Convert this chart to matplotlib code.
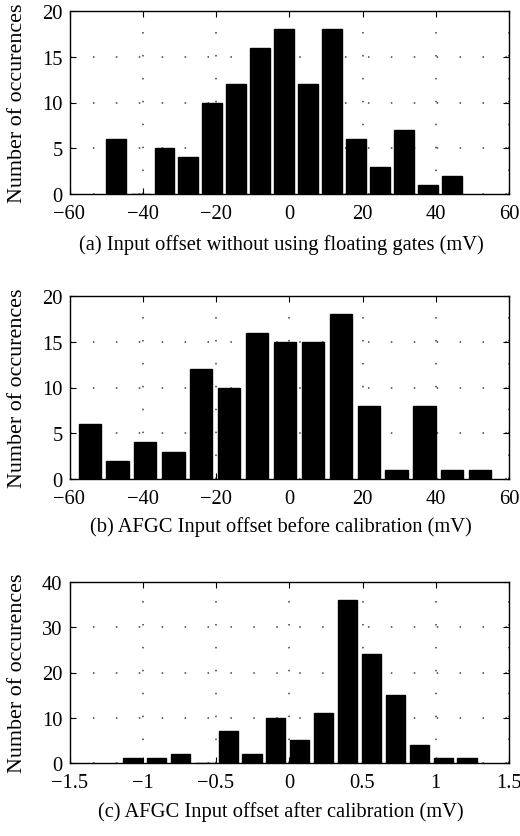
import matplotlib
matplotlib.use("Agg")
import matplotlib.pyplot as plt

plt.rcParams['font.family'] = ['Liberation Serif', 'DejaVu Serif']
plt.rcParams['font.size'] = 15

# histogram bin centres and counts for the three offset measurements
centers_a = [-47.3, -40.7, -34.1, -27.6, -21.1, -14.5, -8.0, -1.4, 5.1, 11.7,
             18.2, 24.8, 31.3, 37.9, 44.4]
counts_a = [6, 0, 5, 4, 10, 12, 16, 18, 12, 18, 6, 3, 7, 1, 2]

centers_b = [-54.5, -46.9, -39.3, -31.6, -24.0, -16.4, -8.8, -1.2, 6.5, 14.1,
             21.7, 29.3, 36.9, 44.5, 52.1]
counts_b = [6, 2, 4, 3, 12, 10, 16, 15, 15, 18, 8, 1, 8, 1, 1]

centers_c = [-1.069, -0.906, -0.743, -0.580, -0.417, -0.254, -0.091, 0.072,
             0.235, 0.398, 0.561, 0.724, 0.887, 1.050, 1.213]
counts_c = [1, 1, 2, 0, 7, 2, 10, 5, 11, 36, 24, 15, 4, 1, 1]

captions = ["(a) Input offset without using floating gates (mV)",
            "(b) AFGC Input offset before calibration (mV)",
            "(c) AFGC Input offset after calibration (mV)"]

panels = [
    (centers_a, counts_a, (-60, 60), range(-60, 61, 20), (0, 20), range(0, 21, 5)),
    (centers_b, counts_b, (-60, 60), range(-60, 61, 20), (0, 20), range(0, 21, 5)),
    (centers_c, counts_c, (-1.5, 1.5), [-1.5, -1, -0.5, 0, 0.5, 1, 1.5], (0, 40), range(0, 41, 10)),
]

W, H = 520, 837
fig = plt.figure(figsize=(W / 100, H / 100), dpi=100)

# axes boxes in pixels: (top, bottom)
boxes = [(12, 195), (297, 480), (583, 764)]
caption_y = [245, 527, 812]
left, right = 69.5, 509

for (cx, cy, xlim, xt, ylim, yt), (top, bot), cap, capy in zip(panels, boxes, captions, caption_y):
    ax = fig.add_axes([left / W, 1 - bot / H, (right - left) / W, (bot - top) / H])
    binw = cx[1] - cx[0]
    ax.bar(cx, cy, width=0.8 * binw, color='black', edgecolor='black', linewidth=1)
    ax.set_xlim(*xlim)
    ax.set_ylim(*ylim)
    ax.set_xticks(list(xt))
    ax.set_yticks(list(yt))
    ax.set_xticklabels([f"{v:g}".replace('-', '\u2212') for v in xt])
    ax.grid(True, color='0.25', linestyle=(0, (1, 14)), linewidth=1.1)
    ax.set_axisbelow(True)
    ax.tick_params(direction='in', top=True, right=True, length=4, width=0.8,
                   labelsize=14.8)
    ax.tick_params(axis='x', pad=7)
    ax.tick_params(axis='y', pad=5)
    for sp in ax.spines.values():
        sp.set_linewidth(1)
    ax.set_ylabel("Number of occurences", fontsize=15.8)
    ax.yaxis.set_label_coords(-0.097, 0.5)
    fig.text(281 / W, 1 - capy / H, cap, ha='center', va='center', fontsize=14.8)

fig.savefig("out.png", dpi=100)
